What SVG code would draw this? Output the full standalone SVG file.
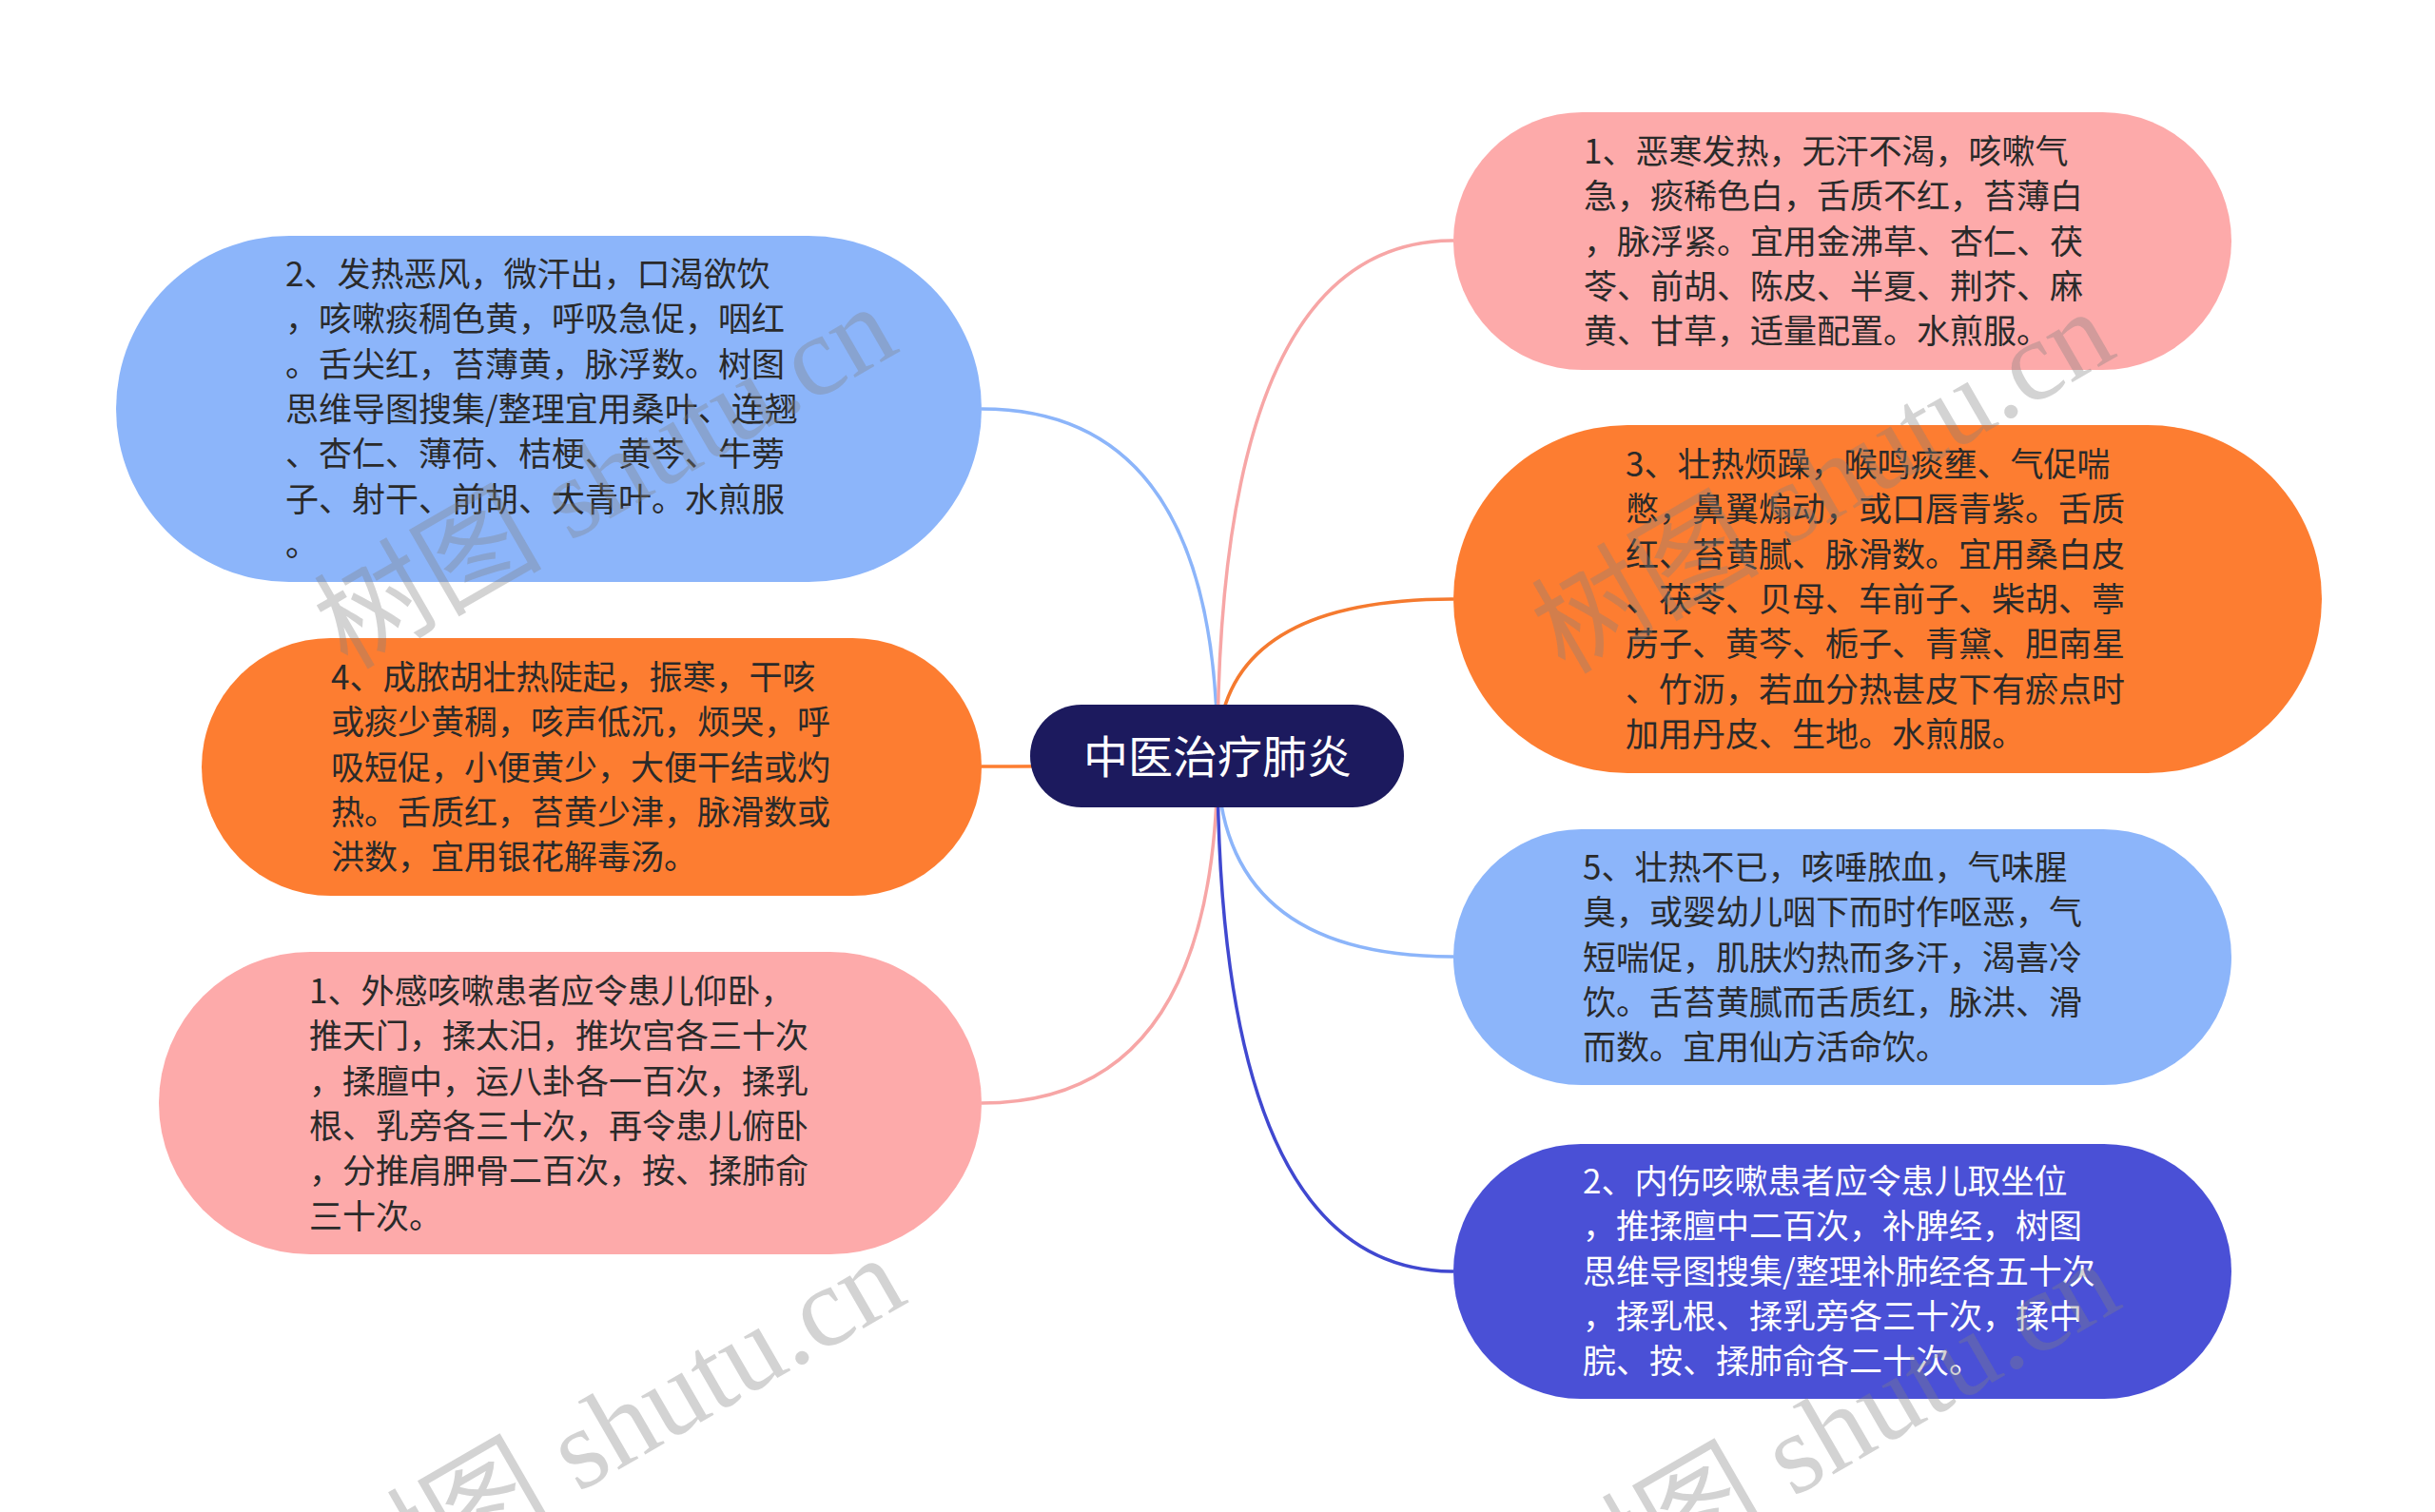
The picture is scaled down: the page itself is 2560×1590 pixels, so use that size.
<svg xmlns="http://www.w3.org/2000/svg" width="2560" height="1590" viewBox="0 0 2560 1590">
<style>
.blue{fill:#8CB5FA}
.pink{fill:#FDAAAA}
.orange{fill:#FD7D31}
.purple{fill:#4A50D6}
.root{fill:#1C1A5E}
.t{font-family:"Noto Sans CJK SC","Noto Sans",sans-serif;font-size:35px;fill:#2a2a2a}
.tw{fill:#ffffff}
.title{font-family:"Noto Sans CJK SC","Noto Sans",sans-serif;font-size:47px;fill:#ffffff}
.c{fill:none;stroke-width:3.5}
.wm{font-family:"Liberation Serif","Noto Sans CJK SC",serif;font-size:120px;fill:#808080;fill-opacity:0.35}
</style>
<rect width="2560" height="1590" fill="#ffffff"/>
<g id="connectors">
<path class="c" stroke="#8CB5FA" d="M1280 796 Q1280 430 1032 430"/>
<path class="c" stroke="#FD7D31" d="M1280 796 Q1280 806 1032 806"/>
<path class="c" stroke="#F7A6A6" d="M1280 796 Q1280 1160 1032 1160"/>
<path class="c" stroke="#F7A6A6" d="M1280 796 Q1280 253 1528 253"/>
<path class="c" stroke="#F57A2F" d="M1280 796 Q1280 630 1528 630"/>
<path class="c" stroke="#8CB5FA" d="M1280 796 Q1280 1006 1528 1006"/>
<path class="c" stroke="#4048D0" d="M1280 796 Q1280 1337 1528 1337"/>
</g>
<g id="root">
<rect class="root" x="1083" y="741" width="393" height="108" rx="54"/>
<text class="title" x="1280" y="813" text-anchor="middle">中医治疗肺炎</text>
</g>
<g id="node-l1">
<rect class="blue" x="122" y="248" width="910" height="364" rx="182"/>
<text class="t" x="300" y="301">
<tspan x="300">2、发热恶风，微汗出，口渴欲饮</tspan>
<tspan x="300" dy="47.3">，咳嗽痰稠色黄，呼吸急促，咽红</tspan>
<tspan x="300" dy="47.3">。舌尖红，苔薄黄，脉浮数。树图</tspan>
<tspan x="300" dy="47.3">思维导图搜集/整理宜用桑叶、连翘</tspan>
<tspan x="300" dy="47.3">、杏仁、薄荷、桔梗、黄芩、牛蒡</tspan>
<tspan x="300" dy="47.3">子、射干、前胡、大青叶。水煎服</tspan>
<tspan x="300" dy="47.3">。</tspan>
</text>
</g>
<g id="node-l2">
<rect class="orange" x="212" y="671" width="820" height="271" rx="135.5"/>
<text class="t" x="348" y="725">
<tspan x="348">4、成脓胡壮热陡起，振寒，干咳</tspan>
<tspan x="348" dy="47.3">或痰少黄稠，咳声低沉，烦哭，呼</tspan>
<tspan x="348" dy="47.3">吸短促，小便黄少，大便干结或灼</tspan>
<tspan x="348" dy="47.3">热。舌质红，苔黄少津，脉滑数或</tspan>
<tspan x="348" dy="47.3">洪数，宜用银花解毒汤。</tspan>
</text>
</g>
<g id="node-l3">
<rect class="pink" x="167" y="1001" width="865" height="318" rx="159"/>
<text class="t" x="325" y="1055">
<tspan x="325">1、外感咳嗽患者应令患儿仰卧，</tspan>
<tspan x="325" dy="47.3">推天门，揉太汨，推坎宫各三十次</tspan>
<tspan x="325" dy="47.3">，揉膻中，运八卦各一百次，揉乳</tspan>
<tspan x="325" dy="47.3">根、乳旁各三十次，再令患儿俯卧</tspan>
<tspan x="325" dy="47.3">，分推肩胛骨二百次，按、揉肺俞</tspan>
<tspan x="325" dy="47.3">三十次。</tspan>
</text>
</g>
<g id="node-r1">
<rect class="pink" x="1528" y="118" width="818" height="271" rx="135.5"/>
<text class="t" x="1665" y="172">
<tspan x="1665">1、恶寒发热，无汗不渴，咳嗽气</tspan>
<tspan x="1665" dy="47.3">急，痰稀色白，舌质不红，苔薄白</tspan>
<tspan x="1665" dy="47.3">，脉浮紧。宜用金沸草、杏仁、茯</tspan>
<tspan x="1665" dy="47.3">苓、前胡、陈皮、半夏、荆芥、麻</tspan>
<tspan x="1665" dy="47.3">黄、甘草，适量配置。水煎服。</tspan>
</text>
</g>
<g id="node-r2">
<rect class="orange" x="1528" y="447" width="913" height="366" rx="183"/>
<text class="t" x="1709" y="501">
<tspan x="1709">3、壮热烦躁，喉鸣痰壅、气促喘</tspan>
<tspan x="1709" dy="47.3">憋，鼻翼煽动，或口唇青紫。舌质</tspan>
<tspan x="1709" dy="47.3">红、苔黄腻、脉滑数。宜用桑白皮</tspan>
<tspan x="1709" dy="47.3">、茯苓、贝母、车前子、柴胡、葶</tspan>
<tspan x="1709" dy="47.3">苈子、黄芩、栀子、青黛、胆南星</tspan>
<tspan x="1709" dy="47.3">、竹沥，若血分热甚皮下有瘀点时</tspan>
<tspan x="1709" dy="47.3">加用丹皮、生地。水煎服。</tspan>
</text>
</g>
<g id="node-r3">
<rect class="blue" x="1528" y="872" width="818" height="269" rx="134.5"/>
<text class="t" x="1664" y="925">
<tspan x="1664">5、壮热不已，咳唾脓血，气味腥</tspan>
<tspan x="1664" dy="47.3">臭，或婴幼儿咽下而时作呕恶，气</tspan>
<tspan x="1664" dy="47.3">短喘促，肌肤灼热而多汗，渴喜冷</tspan>
<tspan x="1664" dy="47.3">饮。舌苔黄腻而舌质红，脉洪、滑</tspan>
<tspan x="1664" dy="47.3">而数。宜用仙方活命饮。</tspan>
</text>
</g>
<g id="node-r4">
<rect class="purple" x="1528" y="1203" width="818" height="268" rx="134"/>
<text class="t tw" x="1664" y="1255">
<tspan x="1664">2、内伤咳嗽患者应令患儿取坐位</tspan>
<tspan x="1664" dy="47.3">，推揉膻中二百次，补脾经，树图</tspan>
<tspan x="1664" dy="47.3">思维导图搜集/整理补肺经各五十次</tspan>
<tspan x="1664" dy="47.3">，揉乳根、揉乳旁各三十次，揉中</tspan>
<tspan x="1664" dy="47.3">脘、按、揉肺俞各二十次。</tspan>
</text>
</g>
<g id="watermarks">
<text class="wm" transform="translate(365 705) rotate(-30)">树图 shutu.cn</text>
<text class="wm" transform="translate(1645 710) rotate(-30)">树图 shutu.cn</text>
<text class="wm" transform="translate(374 1705) rotate(-30)">树图 shutu.cn</text>
<text class="wm" transform="translate(1651 1710) rotate(-30)">树图 shutu.cn</text>
</g>
</svg>
